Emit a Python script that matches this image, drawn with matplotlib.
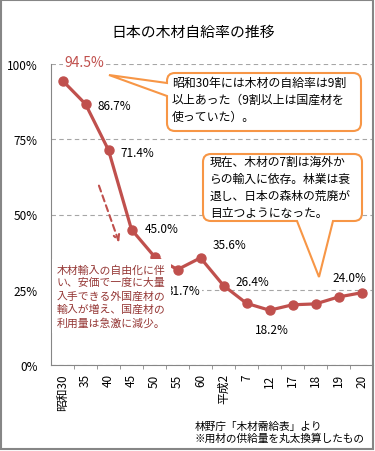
import matplotlib
matplotlib.use('Agg')
import matplotlib.pyplot as plt
from matplotlib.path import Path
from matplotlib.patches import PathPatch, Rectangle
from matplotlib.transforms import Affine2D

plt.rcParams['font.family'] = ['Noto Sans CJK JP', 'DejaVu Sans']

# 年次（昭和30年〜平成20年）と木材自給率(%)
years = ['昭和30', '35', '40', '45', '50', '55', '60', '平成2', '7', '12', '17', '18', '19', '20']
rate = [94.5, 86.7, 71.4, 45.0, 36.0, 31.7, 35.6, 26.4, 20.5, 18.2, 20.0, 20.3, 22.6, 24.0]
y_ticks = [0, 25, 50, 75, 100]
y_tick_labels = ['0%', '25%', '50%', '75%', '100%']

LINE_COLOR = '#c0504d'
TEXT_RED = '#953735'
CALLOUT_EDGE = '#f79646'
GRAY = '#868686'

W, H = 375, 452
fig = plt.figure(figsize=(W / 100, H / 100), dpi=100)
fig.patch.set_facecolor('white')

# pixel coords (origin top-left) -> display
px = Affine2D().scale(1 / 100, -1 / 100).translate(0, H / 100) + fig.dpi_scale_trans

ax = fig.add_axes([51 / W, 86 / H, 322 / W, 301 / H])
xs = list(range(len(years)))
ax.plot(xs, rate, color=LINE_COLOR, linewidth=2.3, marker='o', markersize=6.5, zorder=3)

ax.set_xlim(-0.5, len(years) - 0.5)
ax.set_ylim(0, 100)
ax.set_yticks(y_ticks)
ax.set_yticklabels(y_tick_labels, fontsize=8.5)
ax.set_xticks(xs)
ax.set_xticklabels(years, rotation=90, fontsize=8.5)
ax.set_xticks([i + 0.5 for i in xs[:-1]], minor=True)
ax.tick_params(axis='y', length=0, pad=9.5)
ax.tick_params(axis='x', which='major', length=0, pad=6)
ax.tick_params(axis='x', which='minor', length=3, color=GRAY, direction='out')

for s in ['top', 'right']:
    ax.spines[s].set_visible(False)
ax.spines['left'].set_color(GRAY)
ax.spines['bottom'].set_color(GRAY)
ax.grid(axis='y', color='#a6a6a6', linestyle=(0, (4, 3)), linewidth=0.8)
ax.set_axisbelow(True)

# data labels: index -> offset in points
label_offsets = {0: (16, 13), 1: (21, -1.4), 2: (21, -1.4), 3: (21.6, 1.1),
                 5: (4.3, -15), 6: (21, 9.4), 7: (21, 3.2), 9: (1.4, -13.7),
                 13: (-8.6, 10.8)}
for i, (dx, dy) in label_offsets.items():
    kw = dict(fontsize=8.5, color='black')
    if i == 0:
        kw = dict(fontsize=10, color=LINE_COLOR)
    if i in (0, 5):
        kw['bbox'] = dict(boxstyle='square,pad=0.1', fc='white', ec='none')
    ax.annotate(f'{rate[i]:.1f}%', xy=(i, rate[i]), xytext=(dx, dy),
                textcoords='offset points', ha='center', va='center',
                annotation_clip=False, **kw)


def callout(x0, y0, x1, y1, r, left=(), bottom=()):
    verts = [(x0 + r, y0), (x1 - r, y0), (x1, y0), (x1, y0 + r),
             (x1, y1 - r), (x1, y1), (x1 - r, y1)]
    codes = [Path.MOVETO, Path.LINETO, Path.CURVE3, Path.CURVE3,
             Path.LINETO, Path.CURVE3, Path.CURVE3]
    for p in bottom:
        verts.append(p)
        codes.append(Path.LINETO)
    verts += [(x0 + r, y1), (x0, y1), (x0, y1 - r)]
    codes += [Path.LINETO, Path.CURVE3, Path.CURVE3]
    for p in left:
        verts.append(p)
        codes.append(Path.LINETO)
    verts += [(x0, y0 + r), (x0, y0), (x0 + r, y0), (x0 + r, y0)]
    codes += [Path.LINETO, Path.CURVE3, Path.CURVE3, Path.CLOSEPOLY]
    patch = PathPatch(Path(verts, codes), transform=px, facecolor='white',
                      edgecolor=CALLOUT_EDGE, linewidth=1.5, zorder=2)
    fig.add_artist(patch)


callout(167, 74, 361, 132, 8, left=[(167, 97), (109, 76), (167, 84)])
fig.text(172, 77, '昭和30年には木材の自給率は9割\n以上あった（9割以上は国産材を\n使っていた）。',
         transform=px, fontsize=8.6, va='top', ha='left', linespacing=1.4, zorder=3)

callout(203, 155, 362, 222, 8, bottom=[(333, 222), (319, 278), (297, 222)])
fig.text(210, 156, '現在、木材の7割は海外か\nらの輸入に依存。林業は衰\n退し、日本の森林の荒廃が\n目立つようになった。',
         transform=px, fontsize=8.5, va='top', ha='left', linespacing=1.4, zorder=3)

fig.text(57, 265, '木材輸入の自由化に伴\nい、安価で一度に大量\n入手できる外国産材の\n輸入が増え、国産材の\n利用量は急激に減少。',
         transform=px, fontsize=7.8, color=TEXT_RED, va='top', ha='left', linespacing=1.35,
         zorder=3, bbox=dict(boxstyle='square,pad=0.5', fc='white', ec='none'))

ax.annotate('', xy=(120, 246), xytext=(98, 184), xycoords=px, textcoords=px,
            arrowprops=dict(arrowstyle='->', color=LINE_COLOR, lw=1.5,
                            linestyle=(0, (3, 2)), mutation_scale=10))

fig.text(193, 33, '日本の木材自給率の推移', transform=px, fontsize=10.7,
         ha='center', va='center')
fig.text(195, 422, '林野庁「木材需給表」より\n※用材の供給量を丸太換算したもの', transform=px,
         fontsize=7.7, ha='left', va='top', linespacing=1.15)

fig.add_artist(Rectangle((0.75, 0.75), 372, 449.5, transform=px, fill=False,
                         edgecolor=GRAY, linewidth=1.5))

plt.savefig('out.png', dpi=100)
